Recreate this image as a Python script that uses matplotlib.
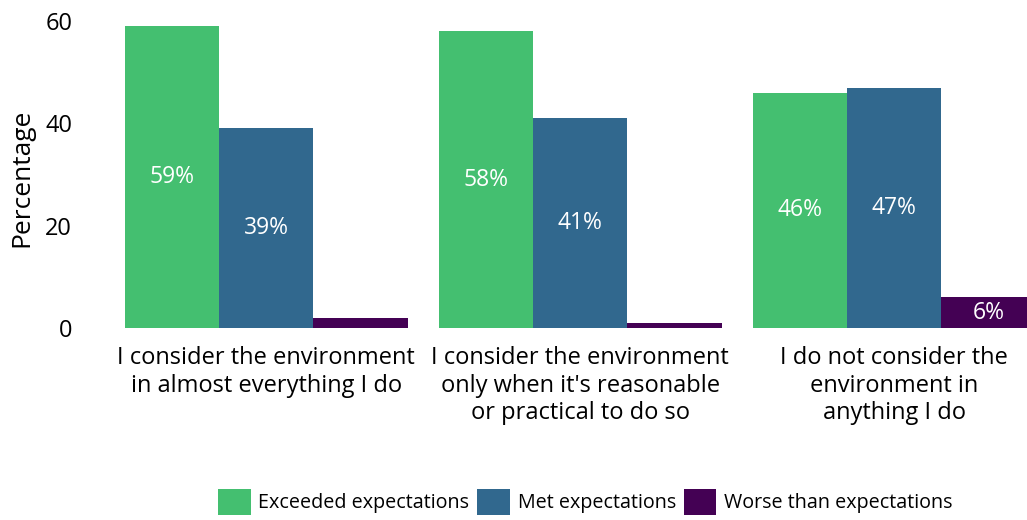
import numpy as np
import matplotlib
matplotlib.use("Agg")
import matplotlib.pyplot as plt

categories = ["I consider the environment\nin almost everything I do",
              "I consider the environment\nonly when it's reasonable\nor practical to do so",
              "I do not consider the\nenvironment in\nanything I do"]
series = ["Exceeded expectations", "Met expectations", "Worse than expectations"]
exceeded = [59, 58, 46]
met = [39, 41, 47]
worse = [2, 1, 6]
y_ticks = [0, 20, 40, 60]

colors = ["#44bf70", "#31688e", "#440154"]

plt.rcParams['font.family'] = ['Open Sans', 'DejaVu Sans']

fig = plt.figure(figsize=(10.27, 5.2), dpi=100)
ax = fig.add_axes([125 / 1027, 192 / 520, 902 / 1027, 307 / 520])

x = np.arange(len(categories))
w = 0.3
handles = []
for i, (name, vals, col) in enumerate(zip(series, [exceeded, met, worse], colors)):
    xs = x + (i - 1) * w
    b = ax.bar(xs, vals, width=w, color=col, label=name)
    handles.append(b)
    for xi, v in zip(xs, vals):
        if v >= 5:
            ax.text(xi, v / 2, "{}%".format(v), color="white", fontsize=16.5,
                    ha="center", va="center")

ax.set_xlim(-0.45, -0.45 + 902 / 314)
ax.set_ylim(0, 60)
ax.set_yticks(y_ticks)
ax.set_xticks(x)
ax.set_xticklabels(categories, fontsize=17, linespacing=1.2)
ax.tick_params(axis="y", labelsize=17, length=0, pad=38)
ax.tick_params(axis="x", length=0, pad=13)
ax.set_ylabel("Percentage", fontsize=19)
ax.yaxis.set_label_coords(-0.1, 0.49)
for s in ax.spines.values():
    s.set_visible(False)

fig.legend(handles=handles, loc="lower center", bbox_to_anchor=(0.57, -0.025), ncol=3,
           frameon=False, fontsize=14.2, handlelength=1.65, handleheight=1.7,
           handletextpad=0.4, columnspacing=0.4)

fig.savefig("out.png", dpi=100)
